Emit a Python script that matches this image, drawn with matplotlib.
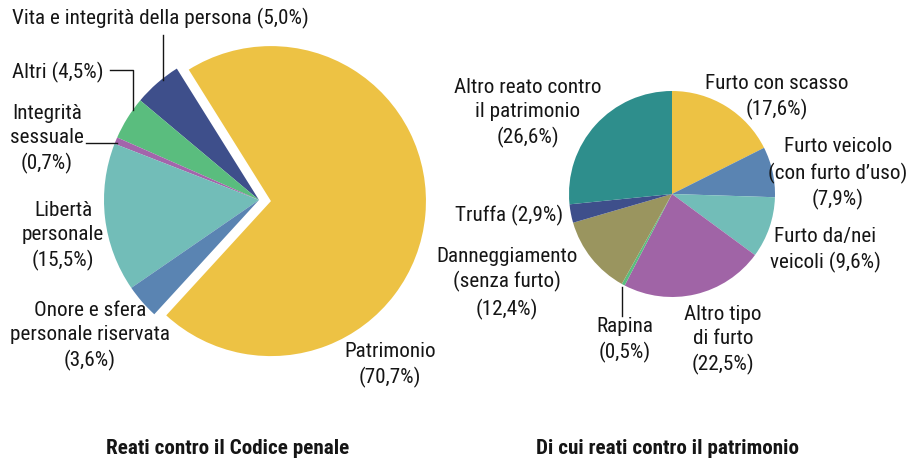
import matplotlib
matplotlib.use("Agg")
import matplotlib.pyplot as plt
from matplotlib import font_manager
from matplotlib.font_manager import FontProperties

# ---------------- data ----------------
left_names = ["Patrimonio", "Vita e integrità della persona", "Altri",
              "Integrità\nsessuale", "Libertà\npersonale",
              "Onore e sfera\npersonale riservata"]
left_values = [70.7, 5.0, 4.5, 0.7, 15.5, 3.6]
left_colors = ["#EDC244", "#3E4F8B", "#5ABD7E", "#A365AB", "#72BDB8", "#5A84B2"]

right_names = ["Furto con scasso", "Furto veicolo\n(con furto d’uso)",
               "Furto da/nei\nveicoli", "Altro tipo\ndi furto", "Rapina",
               "Danneggiamento\n(senza furto)", "Truffa",
               "Altro reato contro\nil patrimonio"]
right_values = [17.6, 7.9, 9.6, 22.5, 0.5, 12.4, 2.9, 26.6]
right_colors = ["#EDC244", "#5A84B2", "#72BDB8", "#A064A6", "#5ABD7E",
                "#9A955F", "#3E4F8B", "#2E8E8C"]

titles = ["Reati contro il Codice penale", "Di cui reati contro il patrimonio"]

# ---------------- fonts: look for a condensed face ----------------
entries = font_manager.fontManager.ttflist

def is_bold(e):
    w = e.weight
    if isinstance(w, str):
        return w in ("bold", "heavy", "black", "demibold", "semibold", "extra bold")
    return w >= 600

def find(bold):
    cands = []
    for e in entries:
        low = (e.name + " " + e.fname).lower()
        narrow = ("condensed" in low or "narrow" in low or
                  (isinstance(e.stretch, str) and "condensed" in e.stretch))
        if not narrow or e.style != "normal":
            continue
        if is_bold(e) != bold:
            continue
        if "extra" in low or "ultra" in low or "semi" in low:
            continue
        score = 0
        for i, pref in enumerate(["roboto", "liberation", "open", "noto", "lato", "dejavu"]):
            if pref in low:
                score = 10 - i
        cands.append((score, e.fname))
    cands.sort(reverse=True)
    return cands[0][1] if cands else None

freg = find(False)
fbold = find(True)
FP = FontProperties(fname=freg) if freg else FontProperties(family="DejaVu Sans")
FPB = FontProperties(fname=fbold) if fbold else FontProperties(family="DejaVu Sans", weight="bold")

W, H = 907, 462
fig = plt.figure(figsize=(W / 100, H / 100), dpi=100)
ax = fig.add_axes([0, 0, 1, 1])

def Y(ypx):
    return H - ypx

def pct(v):
    return f"({v:.1f}%)".replace(".", ",")

TXT = "#151515"
FS = 15.2

# ---------------- left pie ----------------
r1 = 155
ax.pie(left_values, colors=left_colors, startangle=-132.5, counterclock=True,
       center=(259, Y(200)), radius=r1, explode=[12, 0, 0, 0, 0, 0],
       wedgeprops=dict(linewidth=0), frame=True)

# ---------------- right pie ----------------
ax.pie(right_values, colors=right_colors, startangle=90, counterclock=False,
       center=(672, Y(194)), radius=103, wedgeprops=dict(linewidth=0), frame=True)

ax.set_xlim(0, W)
ax.set_ylim(0, H)
ax.set_aspect("equal")
ax.axis("off")

# ---------------- labels ----------------
def lbl(x, y, s, ha="center"):
    fp = FP.copy()
    fp.set_size(FS)
    ax.text(x, Y(y), s, ha=ha, va="center", fontproperties=fp, color=TXT,
            linespacing=1.36)

lbl(12, 18, f"{left_names[1]} {pct(left_values[1])}", ha="left")
ax.plot([163, 163], [Y(35), Y(80)], color=TXT, lw=1)

lbl(12, 72, f"{left_names[2]} {pct(left_values[2])}", ha="left")
ax.plot([110, 133, 133], [Y(70), Y(70), Y(110)], color=TXT, lw=1)

lbl(47, 139, f"{left_names[3]}\n{pct(left_values[3])}")
ax.plot([86, 117], [Y(143), Y(143)], color=TXT, lw=1)

lbl(63, 236, f"{left_names[4]}\n{pct(left_values[4])}")
lbl(90, 336, f"{left_names[5]}\n{pct(left_values[5])}")
lbl(390, 365, f"{left_names[0]}\n{pct(left_values[0])}")

lbl(777, 97, f"{right_names[0]}\n{pct(right_values[0])}")
lbl(838, 174, f"{right_names[1]}\n{pct(right_values[1])}")
lbl(825, 250, f"{right_names[2]} {pct(right_values[2])}")
lbl(723, 340, f"{right_names[3]}\n{pct(right_values[3])}")
lbl(625, 340, f"{right_names[4]}\n{pct(right_values[4])}")
ax.plot([622, 622], [Y(287), Y(316)], color=TXT, lw=1)
lbl(507, 283, f"{right_names[5]}\n{pct(right_values[5])}")
lbl(509, 215, f"{right_names[6]} {pct(right_values[6])}")
lbl(528, 113, f"{right_names[7]}\n{pct(right_values[7])}")

# ---------------- titles ----------------
fpb = FPB.copy()
fpb.set_size(15.2)
ax.text(228, Y(449), titles[0], ha="center", va="center", fontproperties=fpb, color=TXT)
ax.text(668, Y(449), titles[1], ha="center", va="center", fontproperties=fpb, color=TXT)

fig.savefig("out.png", dpi=100, facecolor="white")
